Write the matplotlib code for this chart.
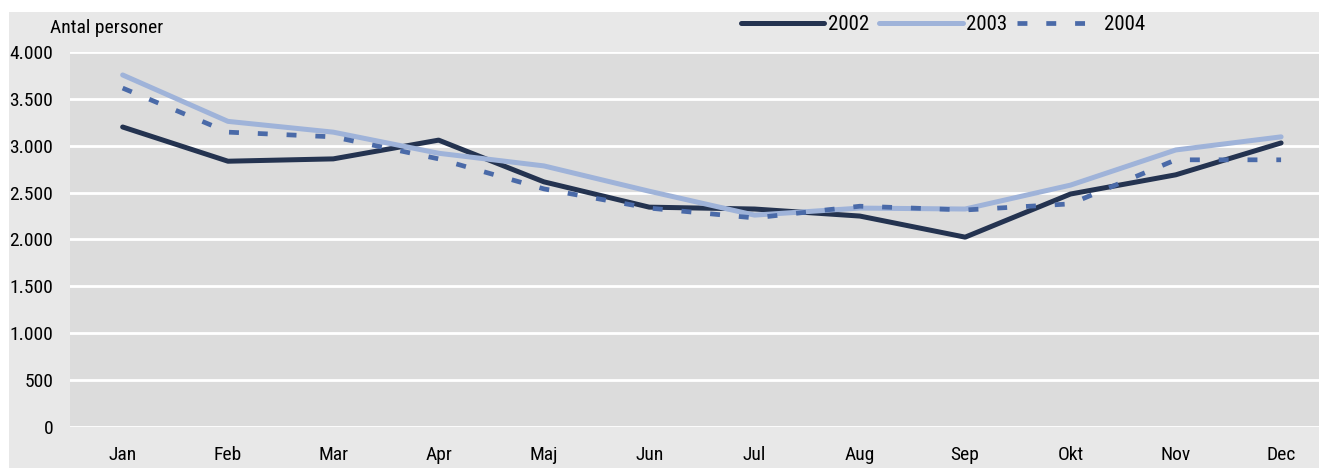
import matplotlib.pyplot as plt
from matplotlib.patches import Rectangle
from matplotlib.ticker import FuncFormatter
from matplotlib import font_manager

months = ['Jan', 'Feb', 'Mar', 'Apr', 'Maj', 'Jun', 'Jul', 'Aug', 'Sep', 'Okt', 'Nov', 'Dec']
v2002 = [3200, 2835, 2860, 3060, 2615, 2345, 2325, 2250, 2025, 2485, 2690, 3030]
v2003 = [3755, 3260, 3145, 2920, 2785, 2515, 2260, 2335, 2325, 2580, 2955, 3095]
v2004 = [3615, 3145, 3095, 2860, 2540, 2335, 2230, 2355, 2315, 2380, 2850, 2850]

names = sorted(set(f.name for f in font_manager.fontManager.ttflist))
fam = 'DejaVu Sans'
for cand in ['Roboto Condensed', 'Liberation Sans Narrow', 'Open Sans Condensed', 'DejaVu Sans Condensed', 'Liberation Sans']:
    if cand in names:
        fam = cand
        break
plt.rcParams['font.family'] = [fam, 'DejaVu Sans']
fs = 14

fig = plt.figure(figsize=(13.19, 4.68), dpi=100)
fig.patch.set_facecolor('white')
fig.patches.append(Rectangle((9 / 1319, 0), 1, 1 - 12 / 468, transform=fig.transFigure,
                             facecolor='#e8e8e8', edgecolor='none', zorder=-5))

ax = fig.add_axes([70 / 1319, 1 - 427 / 468, 1 - 70 / 1319, (427 - 52) / 468])
ax.set_facecolor('#dcdcdc')
x = range(len(months))
ax.plot(x, v2002, color='#243350', lw=3.6, label='2002', solid_capstyle='round')
ax.plot(x, v2003, color='#9fb3d9', lw=3.6, label='2003', solid_capstyle='round')
ax.plot(x, v2004, color='#4a6aa8', lw=3.4, label='2004', dashes=(2.1, 4.0))

ax.set_ylim(0, 4000)
ax.set_xlim(-0.5, 11.36)
ax.set_yticks(range(0, 4001, 500))
ax.yaxis.set_major_formatter(FuncFormatter(lambda v, p: f'{int(v):,}'.replace(',', '.')))
ax.set_xticks(list(x))
ax.set_xticklabels(months)
ax.grid(axis='y', color='white', lw=2)
ax.set_axisbelow(True)
for s in ax.spines.values():
    s.set_visible(False)
ax.tick_params(length=0, labelsize=fs)
ax.tick_params(axis='x', pad=14)
ax.tick_params(axis='y', pad=12)

fig.text(50 / 1319, 1 - 28 / 468, 'Antal personer', fontsize=fs, va='center', ha='left')
fig.legend(loc='center', bbox_to_anchor=(943 / 1319, 1 - 25 / 468), ncol=3, frameon=False,
           handlelength=4.0, handletextpad=0.15, columnspacing=0.5, fontsize=15)

fig.savefig('out.png', dpi=100)
